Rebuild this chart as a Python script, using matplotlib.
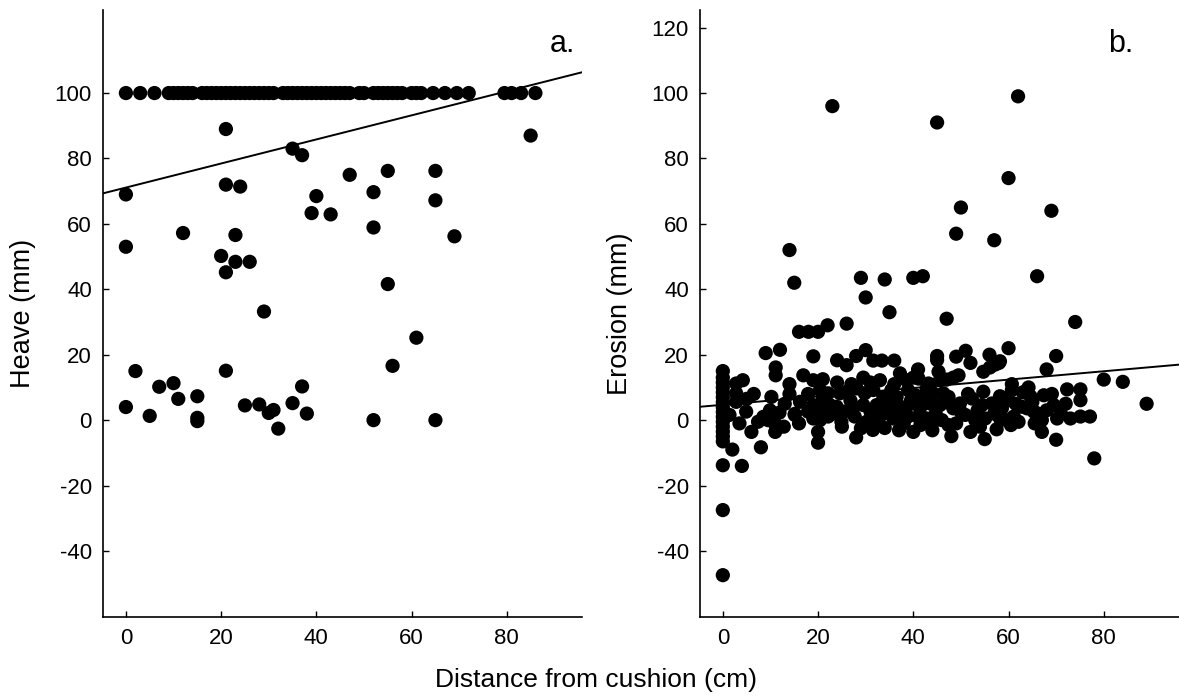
import matplotlib
matplotlib.use('Agg')
import matplotlib.pyplot as plt
import numpy as np

plt.rcParams['font.family'] = ['Liberation Sans', 'DejaVu Sans']
plt.rcParams['axes.unicode_minus'] = False

# panel a: heave vs distance
heave_x = [0, 3, 6, 9, 10, 11, 12, 13, 14, 16, 17, 18, 19, 20, 21, 22, 23, 24, 25, 26, 27, 28,
           29, 30, 31, 33, 34, 35, 36, 37, 38, 39, 40, 41, 42, 43, 44, 45, 46, 47, 49, 50, 52, 53,
           54, 55, 56, 57, 58, 60, 61, 62, 64.5, 67, 69.5, 72, 79.5, 81, 83, 86,
           21, 85, 35, 37, 0, 21, 24, 47, 55, 65, 40, 52, 65, 39, 43, 52, 0, 12, 23, 69,
           20, 23, 26, 21, 55, 29, 61, 56, 2, 21, 7, 10, 37, 11, 15, 0, 5, 15, 15, 25,
           28, 30, 31, 35, 38, 32, 52, 65]
heave_y = [100] * 60 + [89, 87, 83, 81, 69, 72, 71.4, 75, 76.2, 76.2, 68.5, 69.7, 67.2, 63.3,
                        62.9, 58.9, 53, 57.2, 56.6, 56.2, 50.2, 48.4, 48.4, 45.2, 41.6, 33.2,
                        25.2, 16.6, 15, 15.1, 10.2, 11.3, 10.3, 6.5, 7.3, 4, 1.3, 0.7, -0.3,
                        4.5, 4.8, 2.2, 3.1, 5.2, 2, -2.6, 0, 0]
heave_fit = [71.1, 0.368]  # intercept, slope

# panel b: erosion vs distance
erosion_x = [23, 62, 45, 60, 50, 69, 49, 57, 14, 15, 29, 34, 40, 42, 66, 30, 35, 47, 74, 16, 18,
             20, 22, 26, 9, 12, 19, 24, 26, 28, 30, 31.6, 33.4, 36, 41, 45, 45, 49, 51, 52, 56,
             58, 60, 68, 70, 80, 84, 89, 78, 0, 4, 0, 0, 2, 8, 20, 28, 55, 70, 48, 52, 34, 37,
             40, 44, 67, 6, 11, 20,
             0, 0, 0, 0, 0, 0, 0, 0, 0, 0, 0, 0, 0, 0, 0,
             2.8, 4.2, 2.8, 2.8, 4.9, 1.4,
             14, 16.9, 19, 33, 37.2, 41.1, 43.2, 45.6, 47, 49.5, 60.7, 64.2, 11.1, 11.1, 29.5,
             38.6, 40, 45.3, 48.4, 54.7, 56.1, 57.2, 58.2,
             10.2, 16.2, 17.9, 20.4, 22.1, 24.6, 26, 28.1, 29.8, 31.6, 33.7, 35.4, 36.5, 38.9,
             40.4, 42.8, 44.2, 46.3, 47.4, 54.7, 58.2, 60.7, 64.6, 67.4, 69.1, 72.3, 75.1, 75.1,
             11.9, 15.1, 19, 20.7, 22.5, 23.9, 27.4, 29.5, 32.3, 34.4, 36.5, 38.6, 41.4,
             43.5, 45.6, 48.4, 49.8, 52.3, 54.4, 56.5, 58.6, 60, 62.8, 65.3, 69.5,
             7.4, 9.5, 10.9, 15.1, 19, 20.4, 22.1, 24.9, 27.7, 30.2, 33.3, 35.8, 38.9, 42.8,
             44.2, 47.4, 50.9, 53, 55.1, 58.2, 61.1, 62.1, 63.9, 66, 67, 70.2, 73, 75.1, 77.1,
             17.9, 21, 23, 25.5, 26.8, 31, 32, 34.5, 37, 39.5, 41, 42, 44.7, 46, 47, 50, 51.5,
             53.5, 57, 59.5, 61.5, 63, 65, 68, 71, 72, 36, 31, 27, 24, 21, 13, 14, 16, 8.5,
             9.9, 12.8, 25, 29, 31.5, 38, 41.5, 49, 54, 57.5, 60.5, 65.5, 3.5, 5, 6.5]
erosion_y = [96, 99, 91, 74, 65, 64, 57, 55, 52, 42, 43.5, 43, 43.5, 44, 44, 37.5, 33, 31, 30, 27,
             27, 27, 29, 29.5, 20.5, 21.5, 19.5, 18.3, 16.8, 19.6, 21.4, 18.2, 18.2, 18.2, 15.5,
             19.6, 18.4, 19.4, 21.2, 17.5, 20, 17.5, 22, 15.5, 19.6, 12.4, 11.7, 5, -11.7, -13.8,
             -14, -27.5, -47.4, -9, -8.3, -6.9, -5.3, -5.8, -6, -4.9, -3.6, -2.4, -3.1, -3.6,
             -3.1, -3.6, -3.6, -3.6, -3.6,
             15, 13, 11.5, 10, 8.5, 7, 5.5, 4, 2.5, 1, -0.5, -2, -3.5, -5, -6.5,
             11.2, 12.2, 8.2, 5.6, 2.6, 1.6,
             11, 13.7, 12.2, 12.2, 14.3, 12.7, 11.2, 12.2, 12.4, 13.7, 11, 10, 16.1, 13.7, 13,
             12.2, 13, 14.8, 13, 14.8, 16.1, 17, 18,
             7.1, 5.6, 8, 9.2, 8.2, 8.2, 8.7, 9.7, 8.2, 9.2, 7.1, 9.2, 7.1, 9.2, 7.6, 9.7, 8.2,
             8.2, 7.1, 8.7, 7.3, 9.2, 7.3, 7.6, 8, 9.4, 9.4, 6.1,
             2.3, 1.9, 4.6, 3.1, 4.6, 4.1, 4.1, 4.6, 4.6, 5.1, 5.1, 4.1, 3.6, 5.1, 4.6, 3.6,
             5.1, 6.6, 4.6, 5.1, 3.6, 6.1, 4.1, 2.6, 4.6,
             -0.5, 0, -1, 1.6, 0.5, 0, 1.1, -0.5, 1.1, -0.5, 1.6, 0.5, 1.1, 0.5, -0.5, -1.5,
             1.6, 0, 0.5, 0.5, 1.1, -0.5, 3.6, 2.1, 0, 0.5, 0.5, 1.1, 1.1,
             2.6, 6.5, 2, 2.6, 6, 2.6, 0, 3, 2, 6, 1, 6.5, 2, 0, 5.5, 2.5, 8, 3, 2, 0, 5, 8.5,
             5.5, 3, 2, 5, 11, 11.5, 11, 11.5, 12.5, 5, 8, -1, 1, 3, -2, -2, -2.5, -3, -1, -1.5,
             -1, -2, -2.8, -1.5, -1, -1, 6.5, 8]
erosion_fit = [4.7, 0.128]

fig = plt.figure(figsize=(11.79, 6.97), dpi=100)
ax1 = fig.add_axes([0.0874, 0.1152, 0.4063, 0.8705])
ax2 = fig.add_axes([0.5937, 0.1152, 0.4063, 0.8705])

xlim = (-4.8, 95.8)
xline = np.array(xlim)

for ax, xs, ys, fit, yt, lab, tag, tx in [
        (ax1, heave_x, heave_y, heave_fit, range(-40, 101, 20), 'Heave (mm)', 'a.', 0.985),
        (ax2, erosion_x, erosion_y, erosion_fit, range(-40, 121, 20), 'Erosion (mm)', 'b.', 0.904)]:
    ax.scatter(xs, ys, s=105, c='black', edgecolors='none', zorder=3)
    ax.plot(xline, fit[0] + fit[1] * xline, color='black', lw=1.4, zorder=2)
    ax.set_xlim(*xlim)
    ax.set_ylim(-60.1, 125.4)
    ax.set_xticks([0, 20, 40, 60, 80])
    ax.set_yticks(list(yt))
    ax.tick_params(direction='in', length=4, width=1, labelsize=16, pad=8)
    for s in ['top', 'right']:
        ax.spines[s].set_visible(False)
    for s in ['left', 'bottom']:
        ax.spines[s].set_linewidth(1.2)
    ax.set_ylabel(lab, fontsize=19.5)
    ax.yaxis.set_label_coords(-0.14, 0.5)
    ax.text(tx, 0.93, tag, transform=ax.transAxes, ha='right', va='baseline', fontsize=22)

fig.text(0.5055, 0.024, 'Distance from cushion (cm)', ha='center', va='center', fontsize=19)

fig.savefig('out.png', dpi=100)
